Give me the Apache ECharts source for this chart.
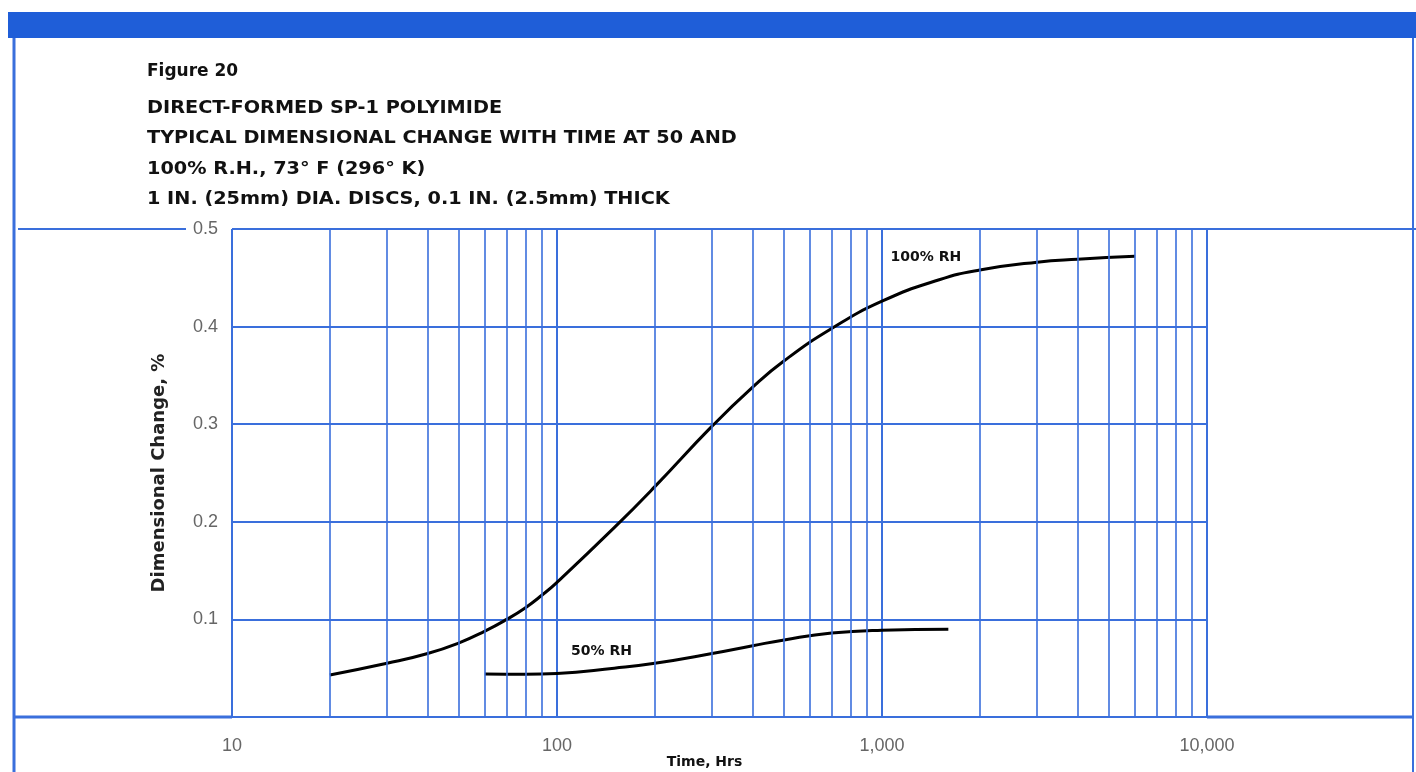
<!DOCTYPE html>
<html><head><meta charset="utf-8">
<script src="https://cdn.jsdelivr.net/npm/echarts@6/dist/echarts.min.js"></script>
<style>html,body{margin:0;padding:0;background:#fff}#c{width:1416px;height:772px}</style>
</head><body><div id="c"></div>
<script>
// Data
const rh100Time = [20, 30, 40, 50, 60, 70, 80, 90, 100, 150, 200, 300, 400, 500, 700, 1000, 1500, 2000, 3000, 4000, 6000];
const rh100Change = [0.043, 0.055, 0.065, 0.076, 0.088, 0.100, 0.112, 0.125, 0.138, 0.194, 0.236, 0.298, 0.338, 0.365, 0.398, 0.426, 0.448, 0.458, 0.466, 0.469, 0.472];
const rh50Time = [60, 80, 100, 150, 200, 300, 400, 500, 700, 1000, 1600];
const rh50Change = [0.044, 0.0437, 0.0445, 0.050, 0.055, 0.065, 0.073, 0.079, 0.086, 0.089, 0.090];
const minorTimes = [20,30,40,50,60,70,80,90,200,300,400,500,600,700,800,900,2000,3000,4000,5000,6000,7000,8000,9000];
const xTickLabels = {10:'10', 100:'100', 1000:'1,000', 10000:'10,000'};
const curveLabels = [{name:'100% RH', at:[1365, 0.471]}, {name:'50% RH', at:[137, 0.0675]}];
const figureLabel = 'Figure 20';
const titleLines = ['DIRECT-FORMED SP-1 POLYIMIDE','TYPICAL DIMENSIONAL CHANGE WITH TIME AT 50 AND','100% R.H., 73° F (296° K)','1 IN. (25mm) DIA. DISCS, 0.1 IN. (2.5mm) THICK'];

const BLUE = '#3a6fdc';
const FONT = 'DejaVu Sans';
const chart = echarts.init(document.getElementById('c'), null, {renderer:'canvas'});

const textEls = [{type:'text', left:147, top:63, style:{text:figureLabel, font:'bold 17px "DejaVu Sans"', fill:'#111'}}];
titleLines.forEach((t,i)=>textEls.push({type:'text', x:147, y:99+i*30.5, scaleX:1.07,
  style:{text:t, font:'bold 18px "DejaVu Sans"', fill:'#111'}}));

const lbl = (name, at) => ({coord: at, symbolSize: 0, label:{show:true, formatter:name, position:'inside', fontFamily:FONT, fontWeight:'bold', fontSize:14, color:'#111'}});

chart.setOption({
  animation:false,
  backgroundColor:'#fff',
  grid:{left:232, right:209, top:229, bottom:55, outerBoundsMode:'none', containLabel:false},
  xAxis:{type:'log', logBase:10, min:10, max:10000,
    name:'Time, Hrs', nameLocation:'middle', nameGap:38, nameMoveOverlap:false,
    nameTextStyle:{fontFamily:FONT, fontWeight:'bold', fontSize:14, color:'#111', padding:[0,30,0,0]},
    axisLine:{show:false}, axisTick:{show:false},
    axisLabel:{margin:20, fontFamily:'Liberation Sans', fontSize:18, color:'#666', formatter:v=>xTickLabels[Math.round(v)]||''},
    splitLine:{show:true, lineStyle:{color:BLUE, width:2}}},
  yAxis:{type:'value', min:0, max:0.5, interval:0.1,
    name:'Dimensional Change, %', nameLocation:'middle', nameGap:64, nameMoveOverlap:false,
    nameTextStyle:{fontFamily:FONT, fontWeight:'bold', fontSize:18, color:'#222'},
    axisLine:{show:false}, axisTick:{show:false},
    axisLabel:{margin:14, fontFamily:'Liberation Sans', fontSize:18, color:'#666', formatter:v=>v===0?'':v.toFixed(1)},
    splitLine:{show:true, lineStyle:{color:BLUE, width:2}}},
  series:[
    {type:'line', name:'100% RH', data:rh100Time.map((t,i)=>[t,rh100Change[i]]), smooth:0.5, symbol:'none',
      lineStyle:{color:'#000', width:3},
      markPoint:{silent:true, symbol:'circle', data:[lbl(curveLabels[0].name, curveLabels[0].at)]},
      markLine:{silent:true, symbol:'none', label:{show:false}, lineStyle:{color:BLUE, width:1.6, type:'solid'},
        data: minorTimes.map(t=>({xAxis:t}))}},
    {type:'line', name:'50% RH', data:rh50Time.map((t,i)=>[t,rh50Change[i]]), smooth:0.5, symbol:'none',
      lineStyle:{color:'#000', width:3},
      markPoint:{silent:true, symbol:'circle', data:[lbl(curveLabels[1].name, curveLabels[1].at)]}}
  ],
  graphic:[
    {type:'rect', shape:{x:8, y:12, width:1408, height:26}, style:{fill:'#1f5ed8'}},
    {type:'line', shape:{x1:14, y1:38, x2:14, y2:772}, style:{stroke:BLUE, lineWidth:3}},
    {type:'line', shape:{x1:1413, y1:38, x2:1413, y2:772}, style:{stroke:BLUE, lineWidth:2}},
    {type:'line', shape:{x1:18, y1:229, x2:186, y2:229}, style:{stroke:BLUE, lineWidth:2}},
    {type:'line', shape:{x1:1207, y1:229, x2:1416, y2:229}, style:{stroke:BLUE, lineWidth:2}},
    {type:'line', shape:{x1:14, y1:717, x2:232, y2:717}, style:{stroke:BLUE, lineWidth:3}},
    {type:'line', shape:{x1:1207, y1:717, x2:1413, y2:717}, style:{stroke:BLUE, lineWidth:3}}
  ].concat(textEls)
});
</script></body></html>
